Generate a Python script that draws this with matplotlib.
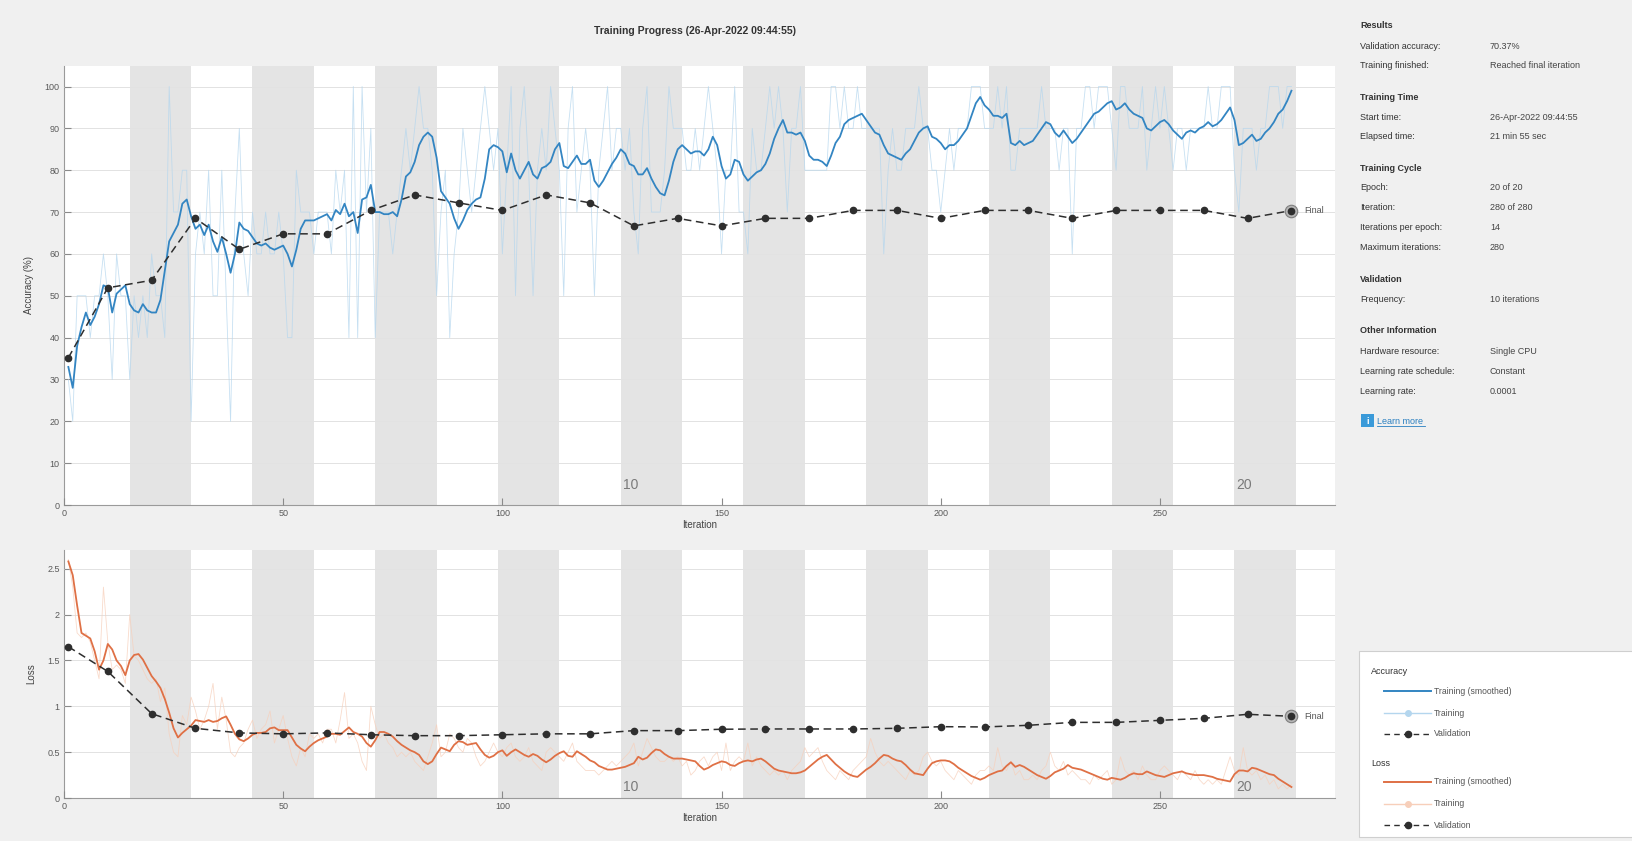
"""MATLAB-style training progress window: accuracy and loss vs iteration."""
import matplotlib
matplotlib.use("Agg")
import matplotlib.pyplot as plt
import matplotlib.transforms as mtransforms
from matplotlib.patches import Rectangle

plt.rcParams["font.family"] = ["Liberation Sans", "DejaVu Sans"]

ITERS_PER_EPOCH = 14
N_EPOCHS = 20
ITER = list(range(1, 281))
VAL_ITER = [1] + list(range(10, 281, 10))

acc_smooth = [
    33, 28, 38, 42.5, 46, 43, 45, 48, 52.5, 52,
    46, 50.5, 51.5, 52.5, 48, 46.5, 46, 48, 46.5, 46,
    46, 49, 56, 63, 65, 67, 72, 73, 69, 66,
    67, 64.5, 67, 63, 60.5, 64, 60, 55.5, 60, 67.5,
    66, 65.5, 64, 62.5, 62, 62.5, 61.5, 61, 61.5, 62,
    60, 57, 61, 66, 68, 68, 68, 68.5, 69, 69.5,
    68, 70.5, 69.5, 72, 69, 70, 65, 73, 73.5, 76.5,
    70, 70, 69.5, 69.5, 70, 69, 73, 78.5, 79.5, 82,
    86, 88, 89, 88, 83, 75, 73.5, 72, 68.5, 66,
    68, 70.5, 72, 73, 73.5, 78, 85, 86, 85.5, 84.5,
    79.5, 84, 80, 78, 80, 82, 79, 78, 80.5, 81,
    82, 85, 86.5, 81, 80.5, 82, 83.5, 81.5, 81.5, 82.5,
    77.5, 76, 77.5, 79.5, 81.5, 83, 85, 84, 81.5, 81,
    79, 79, 80.5, 78, 76, 74.5, 74, 77.5, 82, 85,
    86, 85, 84, 84.5, 84.5, 83.5, 85, 88, 86, 81,
    78, 79, 82.5, 82, 79, 77.5, 78.5, 79.5, 80, 81.5,
    84, 87.5, 90, 92, 89, 89, 88.5, 89, 87, 83.5,
    82.5, 82.5, 82, 81, 83.5, 86.5, 88, 91, 92, 92.5,
    93, 93.5, 92, 90.5, 89, 88.5, 86, 84, 83.5, 83,
    82.5, 84, 85, 87, 89, 90, 90.5, 88, 87.5, 86.5,
    85, 86, 86, 87, 88.5, 90, 93, 96, 97.5, 95.5,
    94.5, 93, 93, 92.5, 93.5, 86.5, 86, 87, 86, 86.5,
    87, 88.5, 90, 91.5, 91, 89, 88, 89.5, 88, 86.5,
    87.5, 89, 90.5, 92, 93.5, 94, 95, 96, 96.5, 94.5,
    95, 96, 94.5, 93.5, 93, 92.5, 90, 89.5, 90.5, 91.5,
    92, 91, 89.5, 88.5, 87.5, 89, 89.5, 89, 90, 90.5,
    91.5, 90.5, 91, 92, 93.5, 95, 92, 86, 86.5, 87.5,
    88.5, 87, 87.5, 89, 90, 91.5, 93.5, 94.5, 96.5, 99,
]

acc_raw = [
    30, 20, 50, 50, 50, 40, 50, 50, 60, 50,
    30, 60, 50, 50, 30, 50, 40, 50, 40, 60,
    50, 50, 40, 100, 70, 70, 80, 80, 20, 60,
    70, 60, 80, 50, 50, 80, 50, 20, 70, 90,
    60, 50, 70, 60, 60, 70, 60, 60, 70, 60,
    40, 40, 80, 70, 70, 70, 60, 70, 70, 70,
    60, 80, 70, 80, 40, 100, 40, 100, 70, 90,
    40, 70, 70, 70, 60, 70, 80, 90, 80, 90,
    100, 90, 90, 80, 50, 70, 80, 40, 60, 70,
    90, 80, 70, 80, 90, 100, 90, 80, 90, 60,
    80, 100, 50, 90, 100, 80, 50, 80, 90, 80,
    100, 90, 80, 50, 90, 100, 70, 80, 90, 80,
    50, 80, 90, 100, 80, 90, 90, 80, 90, 70,
    60, 90, 100, 70, 70, 70, 80, 100, 90, 90,
    90, 80, 80, 90, 80, 90, 100, 90, 80, 60,
    80, 80, 100, 70, 70, 60, 90, 80, 80, 90,
    100, 90, 100, 90, 70, 90, 90, 100, 80, 80,
    80, 80, 80, 80, 100, 100, 90, 100, 90, 90,
    100, 90, 90, 90, 90, 90, 60, 80, 90, 80,
    80, 90, 90, 90, 100, 90, 90, 80, 80, 70,
    80, 90, 80, 90, 90, 90, 100, 100, 100, 90,
    90, 90, 100, 90, 100, 80, 80, 90, 90, 90,
    90, 90, 100, 90, 90, 90, 80, 90, 90, 60,
    90, 90, 100, 100, 90, 100, 100, 100, 90, 80,
    100, 100, 90, 90, 90, 100, 80, 90, 100, 90,
    100, 90, 80, 90, 90, 80, 90, 90, 90, 90,
    100, 90, 90, 100, 100, 100, 80, 70, 90, 90,
    90, 80, 90, 90, 100, 100, 100, 90, 100, 100,
]

loss_smooth = [
    2.58, 2.43, 2.1, 1.8, 1.77, 1.74, 1.6, 1.4, 1.5, 1.68,
    1.62, 1.5, 1.44, 1.34, 1.5, 1.56, 1.57, 1.51, 1.42, 1.33,
    1.27, 1.2, 1.08, 0.93, 0.76, 0.66, 0.71, 0.75, 0.79, 0.85,
    0.84, 0.83, 0.85, 0.83, 0.84, 0.87, 0.89, 0.8, 0.7, 0.64,
    0.62, 0.65, 0.69, 0.71, 0.71, 0.72, 0.76, 0.77, 0.74, 0.74,
    0.74, 0.66, 0.58, 0.54, 0.51, 0.56, 0.6, 0.63, 0.65, 0.67,
    0.7, 0.7, 0.69, 0.73, 0.77, 0.72, 0.7, 0.67, 0.6, 0.56,
    0.63, 0.72, 0.72, 0.7, 0.67, 0.62, 0.58, 0.55, 0.52, 0.5,
    0.47, 0.4, 0.37, 0.4, 0.48, 0.55, 0.53, 0.51, 0.58, 0.62,
    0.61, 0.58, 0.59, 0.6, 0.53, 0.47, 0.44, 0.46, 0.5, 0.52,
    0.46, 0.5, 0.53, 0.5, 0.47, 0.45, 0.48, 0.46, 0.42, 0.39,
    0.42, 0.46, 0.49, 0.51, 0.46, 0.45, 0.51, 0.48, 0.45, 0.41,
    0.39, 0.35, 0.33, 0.31, 0.31, 0.32, 0.33, 0.34, 0.36, 0.38,
    0.45, 0.42, 0.44, 0.49, 0.53, 0.52, 0.48, 0.45, 0.43, 0.43,
    0.43, 0.42, 0.41, 0.4, 0.35, 0.31, 0.33, 0.36, 0.38, 0.4,
    0.39, 0.36, 0.35, 0.38, 0.4, 0.41, 0.4, 0.42, 0.43, 0.4,
    0.36, 0.32, 0.3, 0.29, 0.28, 0.27, 0.27, 0.28, 0.3, 0.34,
    0.38, 0.42, 0.45, 0.47, 0.42, 0.37, 0.33, 0.29, 0.26, 0.24,
    0.23, 0.27, 0.31, 0.34, 0.38, 0.43, 0.47, 0.46, 0.43, 0.41,
    0.4, 0.36, 0.31, 0.27, 0.26, 0.25, 0.32, 0.38, 0.4, 0.41,
    0.41, 0.4, 0.37, 0.33, 0.3, 0.27, 0.24, 0.22, 0.2, 0.22,
    0.25, 0.27, 0.29, 0.3, 0.35, 0.39, 0.34, 0.36, 0.34, 0.31,
    0.28, 0.25, 0.23, 0.21, 0.24, 0.28, 0.3, 0.32, 0.36, 0.33,
    0.32, 0.31, 0.29, 0.27, 0.25, 0.23, 0.21, 0.2, 0.22, 0.21,
    0.2, 0.22, 0.25, 0.27, 0.26, 0.26, 0.29, 0.27, 0.25, 0.24,
    0.23, 0.25, 0.27, 0.28, 0.29, 0.27, 0.26, 0.25, 0.25, 0.25,
    0.24, 0.23, 0.21, 0.2, 0.19, 0.18, 0.26, 0.3, 0.3, 0.29,
    0.33, 0.32, 0.3, 0.28, 0.26, 0.25, 0.21, 0.18, 0.15, 0.12,
]

loss_raw = [
    2.6, 2.3, 1.8, 1.75, 1.8, 1.7, 1.5, 1.3, 2.3, 1.7,
    1.4, 1.45, 1.4, 1.25, 2.0, 1.55, 1.5, 1.4, 1.3, 1.25,
    1.3, 1.05, 1.2, 0.7, 0.5, 0.45, 0.9, 0.8, 1.1, 0.95,
    0.75, 0.85, 1.0, 1.25, 0.75, 1.1, 0.85, 0.5, 0.45, 0.55,
    0.6, 0.75, 0.85, 0.65, 0.75, 0.8, 0.95, 0.6, 0.75, 0.9,
    0.65, 0.45, 0.35, 0.55, 0.45, 0.7, 0.65, 0.7, 0.6, 0.75,
    0.75, 0.6, 0.85, 1.15, 0.65, 0.7, 0.6, 0.4, 0.3, 1.0,
    0.8, 0.65, 0.7, 0.6, 0.55, 0.45, 0.5, 0.45, 0.5, 0.4,
    0.35, 0.3, 0.45, 0.6, 0.8, 0.45, 0.5, 0.7, 0.65, 0.55,
    0.5, 0.65, 0.6, 0.45, 0.35, 0.4, 0.5, 0.6, 0.5, 0.45,
    0.55, 0.6, 0.45, 0.4, 0.45, 0.55, 0.4, 0.35, 0.3, 0.5,
    0.55, 0.5, 0.45, 0.4, 0.5, 0.6, 0.4, 0.35, 0.3, 0.3,
    0.3, 0.25, 0.3, 0.35, 0.4, 0.35, 0.4, 0.45, 0.5, 0.6,
    0.35, 0.5, 0.65, 0.55, 0.45, 0.4, 0.4, 0.45, 0.4, 0.45,
    0.35, 0.4, 0.25, 0.3, 0.4, 0.45, 0.35, 0.45, 0.5, 0.3,
    0.6, 0.3, 0.4, 0.45, 0.4, 0.6, 0.35, 0.45, 0.35, 0.3,
    0.25, 0.3, 0.25, 0.3, 0.2, 0.3, 0.35, 0.4, 0.55, 0.45,
    0.5, 0.55, 0.4, 0.3, 0.25, 0.2, 0.3, 0.25, 0.2, 0.3,
    0.35, 0.4, 0.45, 0.65, 0.5, 0.4, 0.35, 0.4, 0.35, 0.3,
    0.25, 0.2, 0.3, 0.25, 0.3, 0.45, 0.5, 0.4, 0.35, 0.4,
    0.3, 0.25, 0.2, 0.3, 0.25, 0.2, 0.15, 0.25, 0.3, 0.3,
    0.35, 0.3, 0.55, 0.35, 0.3, 0.4, 0.25, 0.3, 0.2, 0.2,
    0.25, 0.2, 0.3, 0.35, 0.5, 0.35, 0.3, 0.4, 0.25, 0.3,
    0.25, 0.2, 0.2, 0.15, 0.25, 0.2, 0.25, 0.3, 0.15, 0.2,
    0.45, 0.3, 0.25, 0.3, 0.2, 0.35, 0.25, 0.2, 0.2, 0.3,
    0.35, 0.3, 0.25, 0.2, 0.3, 0.25, 0.2, 0.3, 0.2, 0.15,
    0.2, 0.15, 0.2, 0.15, 0.3, 0.45, 0.3, 0.25, 0.55, 0.3,
    0.25, 0.3, 0.2, 0.25, 0.15, 0.2, 0.1, 0.15, 0.1, 0.15,
]

acc_val = [35.2, 51.9, 53.7, 68.5, 61.1, 64.8, 64.8, 70.4, 74.1, 72.2,
           70.4, 74.1, 72.2, 66.7, 68.5, 66.7, 68.5, 68.5, 70.4, 70.4,
           68.5, 70.4, 70.4, 68.5, 70.4, 70.4, 70.4, 68.5, 70.37]
loss_val = [1.65, 1.38, 0.92, 0.76, 0.71, 0.70, 0.71, 0.69, 0.68, 0.68,
            0.69, 0.70, 0.70, 0.735, 0.735, 0.75, 0.753, 0.753, 0.753, 0.76,
            0.778, 0.775, 0.793, 0.825, 0.825, 0.847, 0.869, 0.913, 0.891]

for s in (acc_smooth, acc_raw, loss_smooth, loss_raw):
    assert len(s) == len(ITER), len(s)

BG = "#f0f0f0"
BAND = "#e4e4e4"
ACC_C, ACC_RAW = "#3385c2", "#b4d6ee"
LOSS_C, LOSS_RAW = "#df7045", "#f7cfba"
VAL_C = "#2e2e2e"

fig = plt.figure(figsize=(16.32, 8.41), dpi=100, facecolor=BG)
ax_acc = fig.add_axes([0.0392, 0.3995, 0.779, 0.5225])
ax_loss = fig.add_axes([0.0392, 0.0511, 0.779, 0.2955])


def style_axes(ax, ylim, yticks, ylabels, ylabel):
    ax.set_xlim(0, 290)
    ax.set_ylim(*ylim)
    for k in range(1, N_EPOCHS, 2):
        ax.axvspan(k * ITERS_PER_EPOCH + 1, (k + 1) * ITERS_PER_EPOCH + 1,
                   color=BAND, lw=0, zorder=0.5)
    trans = mtransforms.blended_transform_factory(ax.transData, ax.transAxes)
    for ep in (10, 20):
        ax.text((ep - 1) * ITERS_PER_EPOCH + 1.5, 0.045, str(ep), transform=trans,
                ha="left", va="center", fontsize=10, color="#7a7a7a", zorder=1)
    ax.set_xticks(range(0, 300, 50))
    ax.set_yticks(yticks)
    ax.set_yticklabels(ylabels)
    ax.yaxis.grid(True, color="#e2e2e2", lw=0.7)
    ax.set_axisbelow(False)
    ax.tick_params(direction="in", length=5, width=0.8, color="#8a8a8a",
                   labelcolor="#5a5a5a", labelsize=6.5, pad=3)
    for side in ("top", "right"):
        ax.spines[side].set_visible(False)
    for side in ("left", "bottom"):
        ax.spines[side].set_color("#9a9a9a")
        ax.spines[side].set_linewidth(0.8)
    ax.set_xlabel("Iteration", fontsize=7, color="#444444", labelpad=1)
    ax.set_ylabel(ylabel, fontsize=7, color="#444444", labelpad=8)


style_axes(ax_acc, (0, 105), range(0, 101, 10), [str(v) for v in range(0, 101, 10)],
           "Accuracy (%)")
style_axes(ax_loss, (0, 2.71), [0, 0.5, 1, 1.5, 2, 2.5],
           ["0", "0.5", "1", "1.5", "2", "2.5"], "Loss")

for ax, raw, smooth, val, c, craw in [
    (ax_acc, acc_raw, acc_smooth, acc_val, ACC_C, ACC_RAW),
    (ax_loss, loss_raw, loss_smooth, loss_val, LOSS_C, LOSS_RAW),
]:
    ax.plot(ITER, raw, color=craw, lw=0.6, alpha=0.75, zorder=3)
    ax.plot(ITER, smooth, color=c, lw=1.3, zorder=4)
    ax.plot(VAL_ITER, val, color=VAL_C, ls=(0, (5, 3)), lw=1.1, marker="o",
            ms=4.5, mfc=VAL_C, mec=VAL_C, zorder=5)
    # final validation marker
    ax.plot(VAL_ITER[-1], val[-1], marker="o", ms=9, mfc="#b0b0b0", mec="#777777",
            mew=0.8, alpha=0.9, zorder=6)
    ax.plot(VAL_ITER[-1], val[-1], marker="o", ms=4.5, color=VAL_C, zorder=7)
    ax.text(VAL_ITER[-1] + 3, val[-1], "Final", fontsize=6.5, color="#555555",
            va="center", ha="left", zorder=7)

fig.text(0.426, 0.963, "Training Progress (26-Apr-2022 09:44:55)", ha="center",
         va="center", fontsize=7.5, fontweight="bold", color="#333333")

# side panel drawn in pixel coordinates
panel = fig.add_axes([0, 0, 1, 1], zorder=10)
panel.set_xlim(0, 1632)
panel.set_ylim(841, 0)
panel.axis("off")
panel.patch.set_alpha(0)

LX, VX = 1360, 1490
rows = [
    (25, "Results", None, True),
    (46, "Validation accuracy:", "70.37%", False),
    (65, "Training finished:", "Reached final iteration", False),
    (97, "Training Time", None, True),
    (117, "Start time:", "26-Apr-2022 09:44:55", False),
    (136, "Elapsed time:", "21 min 55 sec", False),
    (168, "Training Cycle", None, True),
    (187, "Epoch:", "20 of 20", False),
    (207, "Iteration:", "280 of 280", False),
    (227, "Iterations per epoch:", "14", False),
    (247, "Maximum iterations:", "280", False),
    (279, "Validation", None, True),
    (299, "Frequency:", "10 iterations", False),
    (330, "Other Information", None, True),
    (351, "Hardware resource:", "Single CPU", False),
    (371, "Learning rate schedule:", "Constant", False),
    (391, "Learning rate:", "0.0001", False),
]
for y, label, value, bold in rows:
    panel.text(LX, y, label, fontsize=6.5, color="#333333", va="center",
               fontweight="bold" if bold else "normal")
    if value is not None:
        panel.text(VX, y, value, fontsize=6.5, color="#444444", va="center")

panel.add_patch(Rectangle((1361, 414), 13, 13, facecolor="#3a9ad9", edgecolor="none"))
panel.text(1367.5, 421, "i", fontsize=6.5, color="white", ha="center", va="center",
           fontweight="bold")
panel.text(1377, 421, "Learn more", fontsize=6.5, color="#2a7fc0", va="center")
panel.plot([1377, 1425], [426, 426], color="#2a7fc0", lw=0.6)

# legend box
panel.add_patch(Rectangle((1359, 651), 290, 186, facecolor="white",
                          edgecolor="#cfcfcf", lw=0.8))
for y0, title, c, craw in [(672, "Accuracy", ACC_C, ACC_RAW),
                           (763, "Loss", LOSS_C, LOSS_RAW)]:
    panel.text(1371, y0, title, fontsize=6.5, color="#333333", va="center")
    ys = [y0 + 19, y0 + 41, y0 + 62]
    panel.plot([1384, 1431], [ys[0], ys[0]], color=c, lw=1.4)
    panel.plot([1384, 1431], [ys[1], ys[1]], color=craw, lw=1.0)
    panel.plot([1407.5], [ys[1]], marker="o", ms=4, color=craw)
    panel.plot([1384, 1431], [ys[2], ys[2]], color=VAL_C, lw=1.0, ls=(0, (4, 3)))
    panel.plot([1407.5], [ys[2]], marker="o", ms=4.5, color=VAL_C)
    for y, txt in zip(ys, ["Training (smoothed)", "Training", "Validation"]):
        panel.text(1434, y, txt, fontsize=6.2, color="#555555", va="center")

fig.savefig("out.png", dpi=100, facecolor=BG)
